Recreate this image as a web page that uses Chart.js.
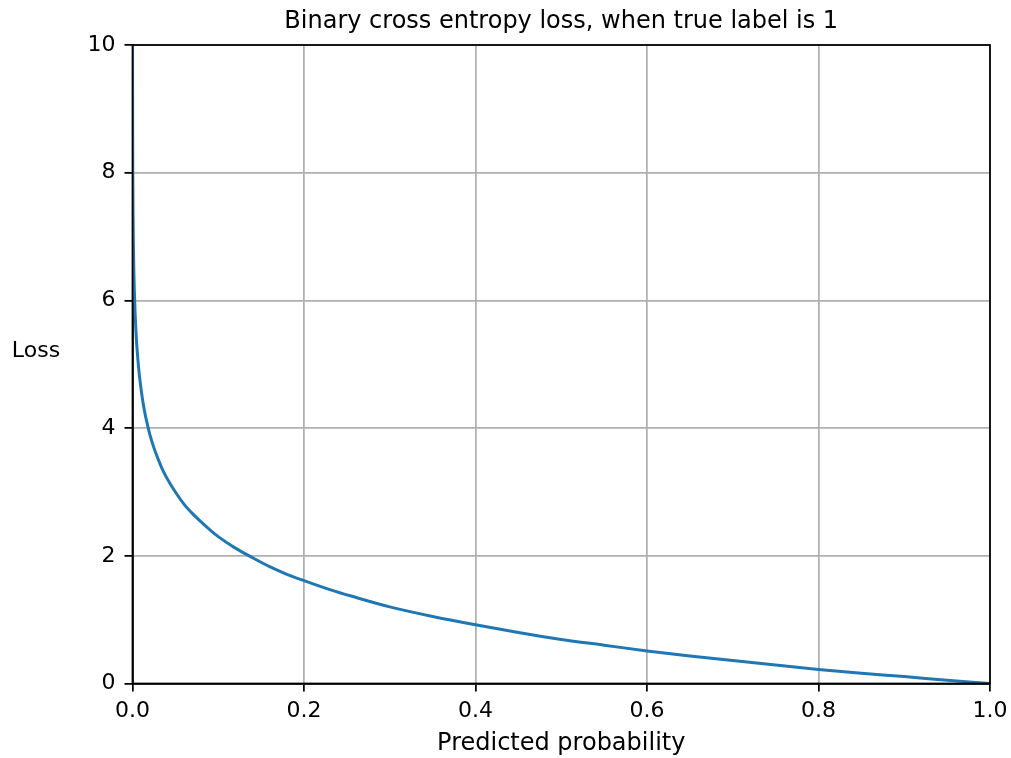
<!DOCTYPE html>
<html>
<head>
<meta charset="utf-8">
<script src="https://cdn.jsdelivr.net/npm/chart.js@4"></script>
<style>
  html, body { margin: 0; padding: 0; background: #fff; }
  #wrap { width: 1011px; height: 758px; position: relative; }
</style>
</head>
<body>
<div id="wrap"><canvas id="c" width="1011" height="758"></canvas></div>
<script>
// ---- data ----
const chartTitle = 'Binary cross entropy loss, when true label is 1';
const xAxisLabel = 'Predicted probability';
const yAxisLabel = 'Loss';
const xTickLabels = ['0.0', '0.2', '0.4', '0.6', '0.8', '1.0'];
const yTickLabels = ['0', '2', '4', '6', '8', '10'];
const probs = [0.00002, 0.00005, 0.0001, 0.0002, 0.0004, 0.0007, 0.001, 0.0015, 0.002, 0.003,
  0.004, 0.005, 0.0065, 0.008, 0.01, 0.0125, 0.015, 0.0175, 0.02, 0.025, 0.03, 0.035, 0.04,
  0.05, 0.06, 0.07, 0.08, 0.09, 0.1, 0.12, 0.14, 0.16, 0.18, 0.2, 0.23, 0.26, 0.3, 0.35, 0.4,
  0.45, 0.5, 0.55, 0.6, 0.65, 0.7, 0.75, 0.8, 0.85, 0.9, 0.95, 1.0];
const losses = [10.82, 9.90, 9.21, 8.52, 7.82, 7.26, 6.91, 6.50, 6.21, 5.81,
  5.52, 5.30, 5.04, 4.83, 4.61, 4.38, 4.20, 4.05, 3.91, 3.69, 3.51, 3.35, 3.22,
  3.00, 2.81, 2.66, 2.53, 2.41, 2.30, 2.12, 1.97, 1.83, 1.71, 1.61, 1.47, 1.35, 1.20, 1.05, 0.92,
  0.80, 0.69, 0.60, 0.51, 0.43, 0.36, 0.29, 0.22, 0.16, 0.11, 0.05, 0.00];

const points = probs.map((p, i) => ({ x: p, y: losses[i] }));
const FONT = 'DejaVu Sans';

const extras = {
  id: 'extras',
  afterDraw(chart) {
    const { ctx, chartArea: a } = chart;
    ctx.save();
    // spines
    ctx.strokeStyle = '#000';
    ctx.lineWidth = 1.75;
    ctx.strokeRect(a.left, a.top, a.right - a.left, a.bottom - a.top);
    // title
    ctx.fillStyle = '#000';
    ctx.font = '24px "' + FONT + '"';
    ctx.textAlign = 'center';
    ctx.textBaseline = 'alphabetic';
    ctx.fillText(chartTitle, (a.left + a.right) / 2, 28);
    // horizontal y label
    ctx.font = '22px "' + FONT + '"';
    ctx.textAlign = 'center';
    ctx.fillText(yAxisLabel, 36, 357);
    ctx.restore();
  }
};

new Chart(document.getElementById('c'), {
  type: 'line',
  data: {
    datasets: [{
      data: points,
      borderColor: '#1f77b4',
      borderWidth: 3,
      pointRadius: 0,
      fill: false,
      cubicInterpolationMode: 'monotone'
    }]
  },
  options: {
    responsive: false,
    animation: false,
    devicePixelRatio: 1,
    layout: { padding: { top: 45, right: 21, left: 0, bottom: 0 } },
    plugins: { legend: { display: false }, title: { display: false }, tooltip: { enabled: false } },
    scales: {
      x: {
        type: 'linear', min: 0, max: 1,
        afterFit(s) { s.height = 74.5; s.paddingLeft = 0; s.paddingRight = 0; },
        grid: { color: '#b0b0b0', lineWidth: 1.75, tickColor: '#000', tickLength: 8, tickWidth: 1.75 },
        border: { color: '#000', width: 1.75 },
        ticks: {
          stepSize: 0.2, autoSkip: false, maxRotation: 0, padding: 7,
          color: '#000', font: { family: FONT, size: 22 },
          callback: (v) => xTickLabels[Math.round(v / 0.2)]
        },
        title: { display: true, text: xAxisLabel, color: '#000', font: { family: FONT, size: 24 }, padding: { top: 0, bottom: 0 } }
      },
      y: {
        type: 'linear', min: 0, max: 10,
        afterFit(s) { s.width = 132.5; s.paddingTop = 0; s.paddingBottom = 0; },
        grid: { color: '#b0b0b0', lineWidth: 1.75, tickColor: '#000', tickLength: 8, tickWidth: 1.75 },
        border: { color: '#000', width: 1.75 },
        ticks: {
          stepSize: 2, autoSkip: false, padding: 9,
          color: '#000', font: { family: FONT, size: 22 },
          callback: (v) => yTickLabels[Math.round(v / 2)]
        }
      }
    }
  },
  plugins: [extras]
});
</script>
</body>
</html>
